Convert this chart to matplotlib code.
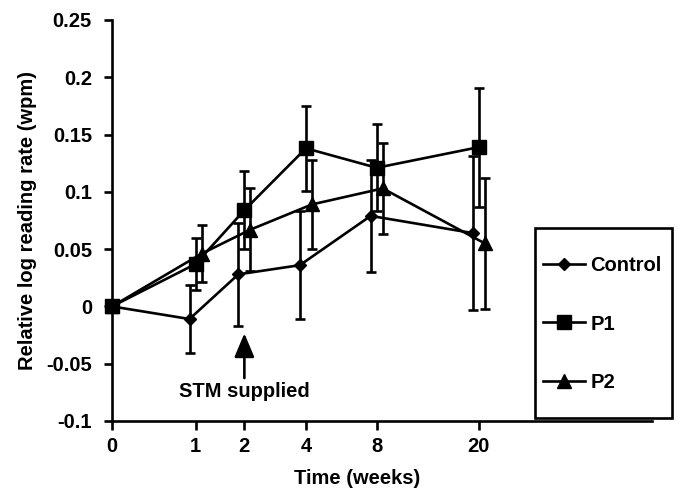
# -*- coding: utf-8 -*-
"""
Relative log reading rate over time, three groups with error bars
"""

import numpy as np
import matplotlib.pyplot as plt
from matplotlib.patches import Rectangle

# data
weeks = np.array([0, 1, 2, 4, 8, 20])
week_labels = ['0', '1', '2', '4', '8', '20']

control = np.array([0, -0.011, 0.028, 0.036, 0.079, 0.064])
control_err = np.array([0, 0.030, 0.045, 0.047, 0.049, 0.067])
p1 = np.array([0, 0.037, 0.084, 0.138, 0.121, 0.139])
p1_err = np.array([0, 0.023, 0.034, 0.037, 0.038, 0.052])
p2 = np.array([0, 0.046, 0.067, 0.089, 0.103, 0.055])
p2_err = np.array([0, 0.025, 0.036, 0.039, 0.040, 0.057])

yticks = [-0.1, -0.05, 0, 0.05, 0.1, 0.15, 0.2, 0.25]
ytick_labels = ['-0.1', '-0.05', '0', '0.05', '0.1', '0.15', '0.2', '0.25']

plt.rcParams['font.family'] = ['Liberation Sans', 'DejaVu Sans']
plt.rcParams['font.weight'] = 'bold'
FS = 14.5
LW = 1.9

fig = plt.figure(figsize=(6.79, 4.91), dpi=100)
ax = fig.add_axes([0.165, 0.1426, 0.7953, 0.8167])

# x axis is stretched like log(week + 1)
xpos = np.log1p(weeks)
moved = (weeks > 0).astype(float)

series = [
    ('Control', control, control_err, 'D', 6.2, -0.05, 3),
    ('P1', p1, p1_err, 's', 9.5, 0.0, 5),
    ('P2', p2, p2_err, '^', 9.5, 0.05, 4),
]

handles = []
for name, y, err, mk, ms, shift, z in series:
    x = xpos + shift * moved
    ax.errorbar(x[1:], y[1:], yerr=err[1:], fmt='none', ecolor='black',
                elinewidth=LW, capsize=3.8, capthick=LW, zorder=2, clip_on=False)
    h, = ax.plot(x, y, color='black', linewidth=LW, marker=mk, markersize=ms,
                 markerfacecolor='black', markeredgecolor='black',
                 zorder=z, clip_on=False, label=name)
    handles.append(h)

ax.set_xlim(0, 4.483)
ax.set_ylim(-0.1, 0.25)
ax.set_xticks(xpos)
ax.set_xticklabels(week_labels, fontsize=FS, fontweight='bold')
ax.set_yticks(yticks)
ax.set_yticklabels(ytick_labels, fontsize=FS, fontweight='bold')

for s in ['top', 'right']:
    ax.spines[s].set_visible(False)
for s in ['left', 'bottom']:
    ax.spines[s].set_linewidth(LW)
ax.tick_params(axis='y', direction='out', length=5.5, width=LW, pad=9)
ax.tick_params(axis='x', direction='out', length=6.5, width=LW, pad=5)

ax.set_ylabel('Relative log reading rate (wpm)', fontsize=FS, fontweight='bold')
ax.yaxis.set_label_coords(-0.139, 0.5)
fig.text(357 / 679, 1 - 478 / 491, 'Time (weeks)', fontsize=FS,
         fontweight='bold', ha='center', va='center')

# arrow marking when the STM was supplied
ax.annotate('STM supplied', xy=(np.log1p(2), -0.0235), xytext=(np.log1p(2), -0.0745),
            fontsize=FS, fontweight='bold', ha='center', va='center',
            arrowprops=dict(arrowstyle='-|>,head_length=1.0,head_width=0.42',
                            color='black', lw=LW, shrinkA=1, shrinkB=0))

# legend box sits over the right end of the plot area
fig.patches.append(Rectangle((535 / 679, 1 - 418 / 491), 137 / 679, 190 / 491,
                             transform=fig.transFigure, facecolor='white',
                             edgecolor='black', linewidth=LW, zorder=5))
leg = fig.legend(handles=handles, loc='center left',
                 bbox_to_anchor=(543 / 679, 1 - 324 / 491), frameon=False,
                 fontsize=FS, handlelength=2.1, handletextpad=0.25,
                 labelspacing=1.95, borderpad=0, borderaxespad=0)
leg.set_zorder(6)

fig.savefig('out.png', dpi=100)
